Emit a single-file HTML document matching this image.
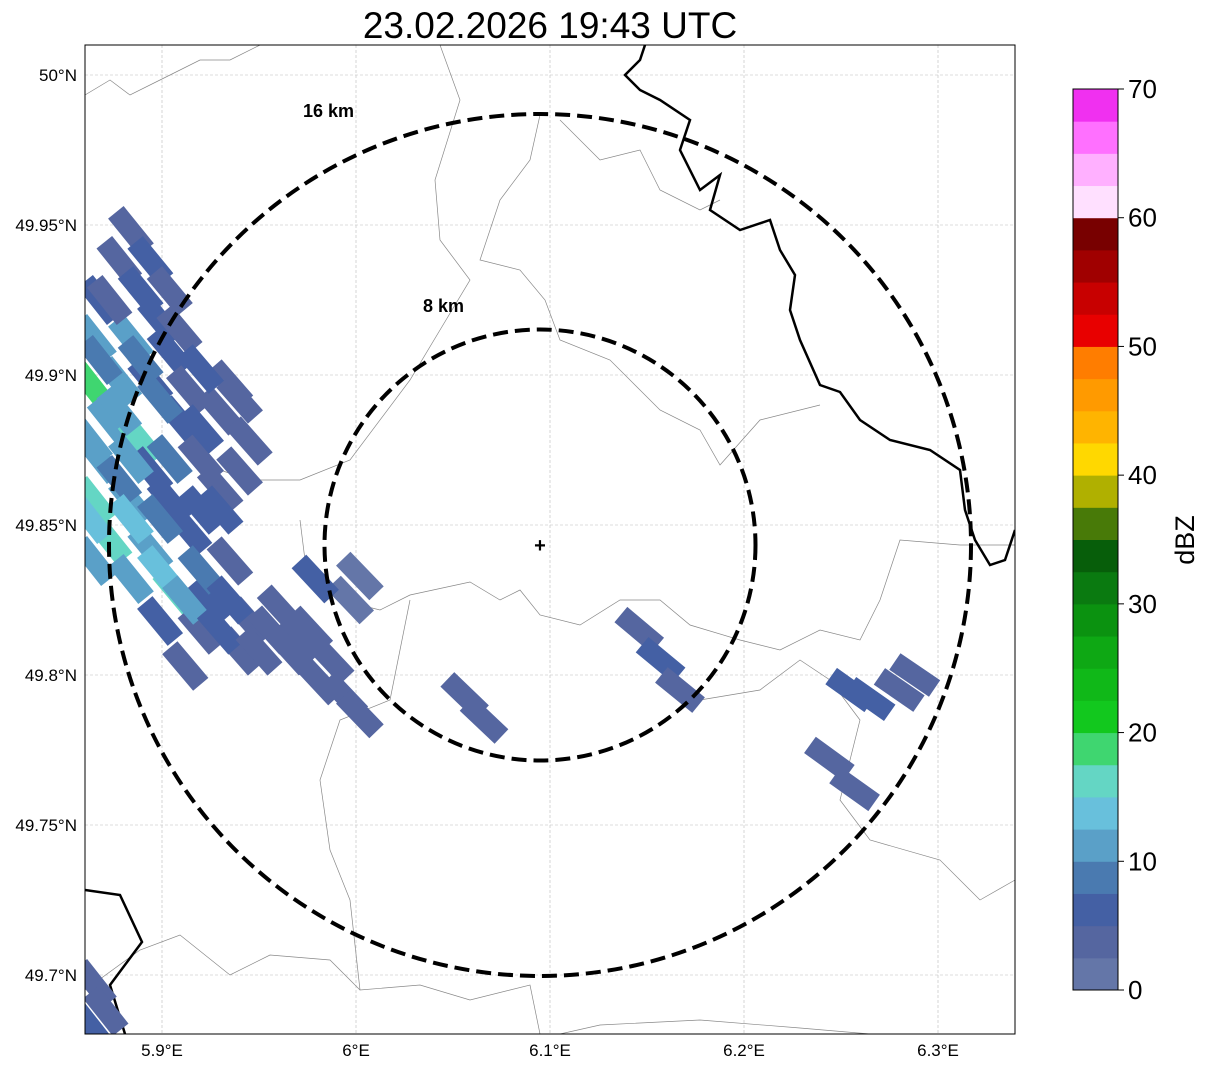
<!DOCTYPE html>
<html><head><meta charset="utf-8"><style>
body{margin:0;background:#fff;}
svg{display:block;font-family:"Liberation Sans",sans-serif;}
</style></head><body>
<svg id="chart" width="1207" height="1069" viewBox="0 0 1207 1069">
<text x="550" y="38" font-size="37" text-anchor="middle">23.02.2026 19:43 UTC</text>
<defs><clipPath id="mapclip"><rect x="85" y="45" width="930" height="989"/></clipPath></defs>
<g id="grid"></g>
<g clip-path="url(#mapclip)">
<g id="geo">
<polyline fill="none" stroke="#888" stroke-width="0.7" points="85,95 110,80 130,95 160,80 200,60 230,60 260,45"/>
<polyline fill="none" stroke="#888" stroke-width="0.7" points="440,45 460,100 435,180 440,240 470,280 440,330 410,380 350,460 300,480 250,480 220,470"/>
<polyline fill="none" stroke="#888" stroke-width="0.7" points="540,115 530,160 500,200 480,260 520,270 545,300 560,340 610,360 640,390 660,410 700,430 720,465 760,420 820,405"/>
<polyline fill="none" stroke="#888" stroke-width="0.7" points="300,520 305,560 340,600 380,610 410,595 470,582 500,600 520,590 540,615 580,625 620,600 660,600 690,625 740,640 780,650 820,630 860,640 880,600 900,540 960,545 1015,545"/>
<polyline fill="none" stroke="#888" stroke-width="0.7" points="410,600 400,650 390,700 340,720 320,780 330,850 350,900 360,990 420,985 470,1000 530,985 540,1034"/>
<polyline fill="none" stroke="#888" stroke-width="0.7" points="85,990 140,950 180,935 230,975 270,955 330,960 360,990"/>
<polyline fill="none" stroke="#888" stroke-width="0.7" points="700,700 760,690 800,660 830,680 860,720 840,800 870,840 940,860 980,900 1015,880"/>
<polyline fill="none" stroke="#888" stroke-width="0.7" points="560,1034 600,1025 700,1020 800,1028 870,1034"/>
<polyline fill="none" stroke="#888" stroke-width="0.7" points="560,120 600,160 640,150 660,190 700,210 720,200"/>
<polyline fill="none" stroke="#000" stroke-width="2.5" points="645,45 640,60 625,75 640,90 660,100 690,120 680,150 700,190 720,175 710,210 740,230 770,220 780,250 795,275 790,310 800,340 820,385 840,392 860,420 890,440 930,450 960,470 965,510 975,540 990,565 1005,560 1015,530"/>
<polyline fill="none" stroke="#000" stroke-width="2.5" points="85,890 120,895 142,942 110,985 125,1034"/>
</g>
<g id="echoes"></g>
</g>
<g>
<circle cx="540" cy="545" r="431" fill="none" stroke="#000" stroke-width="4" stroke-dasharray="15,7"/>
<circle cx="540" cy="545" r="215.5" fill="none" stroke="#000" stroke-width="4" stroke-dasharray="15,7"/>
<text x="303" y="117" font-size="18" font-weight="bold">16 km</text>
<text x="423" y="312" font-size="18" font-weight="bold">8 km</text>
<text x="540" y="552" font-size="20" font-weight="bold" text-anchor="middle">+</text>
</g>
<rect x="85" y="45" width="930" height="989" fill="none" stroke="#000" stroke-width="1"/>
<g id="axes"></g>
<g id="cbar"></g>
<text transform="translate(1194,540) rotate(-90)" font-size="27" text-anchor="middle">dBZ</text>
</svg>
<script>
const lonTicks=[5.9,6.0,6.1,6.2,6.3];
const lonLabels=["5.9°E","6°E","6.1°E","6.2°E","6.3°E"];
const latTicks=[50.0,49.95,49.9,49.85,49.8,49.75,49.7];
const latLabels=["50°N","49.95°N","49.9°N","49.85°N","49.8°N","49.75°N","49.7°N"];
const cbarTicks=[0,10,20,30,40,50,60,70];
const cbarColors=["#6476a8","#5566a0","#4460a4","#4a7ab0","#5aa0c8","#68c0dc","#64d6c4","#3fd670","#12c81e","#10b818","#0ea814","#0b9210","#0a7a10","#075e0a","#487a08","#b0b000","#ffd800","#ffb400","#ff9a00","#ff7d00","#e80000","#c80000","#a00000","#780000","#ffe0ff","#ffb0ff","#ff70ff","#f030f0"];
const cellLon=[5.884,5.878,5.889,5.868,5.899,5.865,5.884,5.904,5.863,5.878,5.894,5.914,5.935,5.873,5.889,5.909,5.930,5.868,5.894,5.920,5.945,5.865,5.884,5.904,5.930,5.873,5.894,5.914,5.935,5.884,5.907,5.925,5.899,5.920,5.945,5.961,5.971,5.987,5.912,5.940,5.997,6.002,5.979,5.994,6.002,6.056,6.066,6.146,6.157,6.167,6.255,6.265,6.280,6.244,6.257,6.288,5.865,5.871,5.863,5.930,5.878,
5.894,5.904,5.873,5.909,5.868,5.889,5.920,5.878,5.899,5.920,5.940,5.863,5.884,5.904,5.940,5.863,5.884,5.899,5.920,5.865,5.899,5.920,5.912,5.935,5.930,5.956,5.976,5.966,5.981,5.950];
const cellLat=[49.948,49.938,49.928,49.925,49.918,49.912,49.912,49.908,49.897,49.898,49.898,49.895,49.897,49.885,49.878,49.885,49.888,49.872,49.868,49.872,49.878,49.858,49.858,49.858,49.862,49.845,49.842,49.848,49.838,49.832,49.828,49.825,49.818,49.815,49.818,49.822,49.812,49.805,49.803,49.808,49.825,49.833,49.832,49.793,49.787,49.793,49.785,49.815,49.805,49.795,49.795,49.792,49.795,49.772,49.762,49.800,49.697,49.688,49.683,49.855,49.865,
49.938,49.928,49.925,49.915,49.905,49.905,49.902,49.888,49.892,49.882,49.892,49.878,49.872,49.872,49.868,49.852,49.852,49.852,49.855,49.838,49.835,49.835,49.825,49.825,49.815,49.815,49.815,49.808,49.798,49.808];
const cellDbz=[3,3,5,5,5,10,12,5,18,12,5,3,3,10,15,5,3,12,5,3,3,17,12,5,3,15,12,5,3,12,16,5,5,3,3,3,3,3,3,3,2,2,5,3,3,3,3,3,5,3,5,5,3,3,3,3,3,3,5,5,8,
5,3,3,3,8,8,5,12,8,5,3,10,12,8,3,14,13,8,5,10,14,8,12,5,5,3,3,3,3,3];
const NS="http://www.w3.org/2000/svg";
const X0=85,X1=1015,Y0=45,Y1=1034;
function xs(lon){return 162+(lon-5.9)*1940;}
function ys(lat){return 75+(50-lat)*3000;}
function cy(v){return 990-v/70*901;}
function colorFor(v){return cbarColors[Math.max(0,Math.min(27,Math.floor(v/2.5)))];}
const grid=document.getElementById('grid'),axes=document.getElementById('axes');
lonTicks.forEach((t,i)=>{const x=xs(t);
 const l=document.createElementNS(NS,'line');
 
 
 l.setAttribute('x1',x);l.setAttribute('x2',x);l.setAttribute('y1',Y0);l.setAttribute('y2',Y1);
 l.setAttribute('stroke','#bbb');l.setAttribute('stroke-width','0.6');l.setAttribute('stroke-dasharray','3,2');grid.appendChild(l);
 const tx=document.createElementNS(NS,'text');
 
 
 tx.setAttribute('x',x);tx.setAttribute('y',1056);tx.setAttribute('font-size','17');tx.setAttribute('text-anchor','middle');tx.textContent=lonLabels[i];axes.appendChild(tx);});
latTicks.forEach((t,i)=>{const y=ys(t);
 const l=document.createElementNS(NS,'line');
 
 
 l.setAttribute('x1',X0);l.setAttribute('x2',X1);l.setAttribute('y1',y);l.setAttribute('y2',y);
 l.setAttribute('stroke','#bbb');l.setAttribute('stroke-width','0.6');l.setAttribute('stroke-dasharray','3,2');grid.appendChild(l);
 const tx=document.createElementNS(NS,'text');
 
 
 tx.setAttribute('x',77);tx.setAttribute('y',y+6);tx.setAttribute('font-size','17');tx.setAttribute('text-anchor','end');tx.textContent=latLabels[i];axes.appendChild(tx);});
const echoes=document.getElementById('echoes');
cellLon.forEach((lon,i)=>{const x=xs(lon),y=ys(cellLat[i]);
 const ang=52-(x-85)/930*20;
 const r=document.createElementNS(NS,'rect');
 
 
 r.setAttribute('x',x-24);r.setAttribute('y',y-10);r.setAttribute('width',48);r.setAttribute('height',20);
 r.setAttribute('fill',colorFor(cellDbz[i]));
 r.setAttribute('transform','rotate('+ang+' '+x+' '+y+')');echoes.appendChild(r);});
const cbar=document.getElementById('cbar');
cbarColors.forEach((c,i)=>{const r=document.createElementNS(NS,'rect');
 
 
 const top=cy((i+1)*2.5),bot=cy(i*2.5);
 r.setAttribute('x',1073);r.setAttribute('y',top);r.setAttribute('width',45);r.setAttribute('height',bot-top+0.5);r.setAttribute('fill',c);cbar.appendChild(r);});
const fr=document.createElementNS(NS,'rect');


fr.setAttribute('x',1073);fr.setAttribute('y',89);fr.setAttribute('width',45);fr.setAttribute('height',901);fr.setAttribute('fill','none');fr.setAttribute('stroke','#000');cbar.appendChild(fr);
cbarTicks.forEach(t=>{const y=cy(t);
 const l=document.createElementNS(NS,'line');
 
 
 l.setAttribute('x1',1118);l.setAttribute('x2',1124);l.setAttribute('y1',y);l.setAttribute('y2',y);l.setAttribute('stroke','#000');cbar.appendChild(l);
 const tx=document.createElementNS(NS,'text');
 
 
 tx.setAttribute('x',1128);tx.setAttribute('y',y+9);tx.setAttribute('font-size','26');tx.textContent=t;cbar.appendChild(tx);});
</script>
</body></html>
